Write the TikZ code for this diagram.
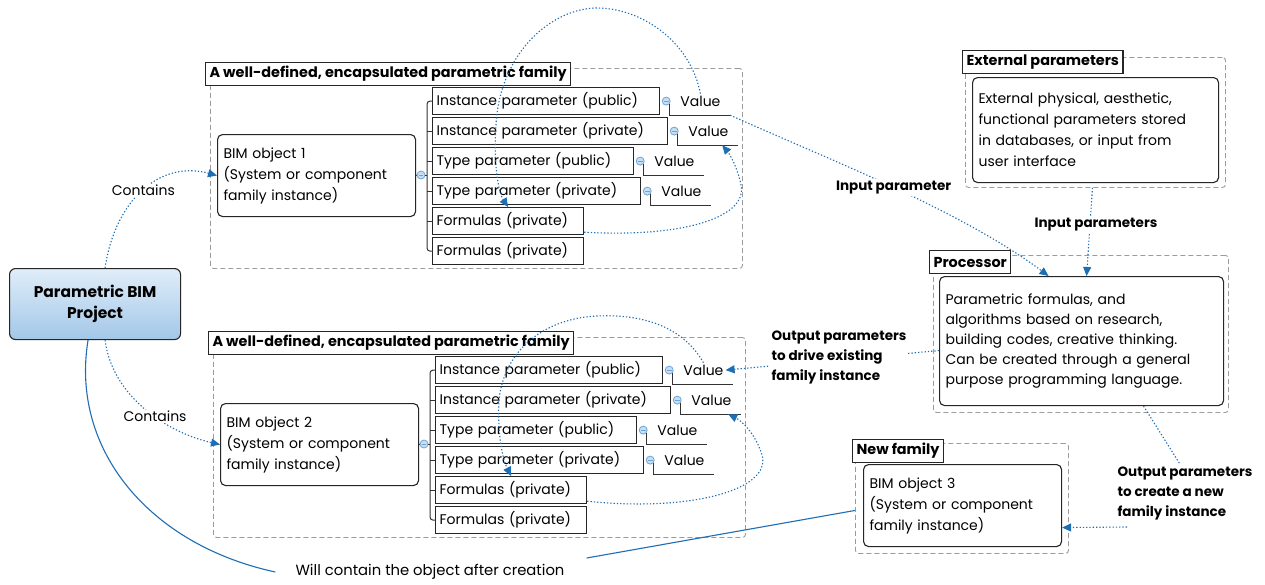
\documentclass[tikz,border=0pt]{standalone}
\usepackage{fontspec}
\setmainfont{Poppins}
\usetikzlibrary{calc,arrows.meta}

\definecolor{linkblue}{RGB}{30,110,180}
\definecolor{grpgray}{RGB}{155,155,155}
\definecolor{knobfill}{RGB}{200,222,242}
\definecolor{knobline}{RGB}{110,165,215}
\definecolor{projtop}{RGB}{224,237,249}
\definecolor{projbot}{RGB}{163,199,232}

\tikzset{
  txt/.style={text=black, font=\fontsize{14}{21}\selectfont},
  lbl/.style={text=black, font=\bfseries\fontsize{13.5}{20}\selectfont, align=left, inner sep=2pt},
  grp/.style={draw=grpgray, dash pattern=on 5pt off 3pt, rounded corners=3pt, line width=0.9pt, anchor=north west},
  ttl/.style={draw=black!85, fill=white, line width=1.1pt, font=\bfseries\fontsize{14.4}{18}\selectfont,
    inner xsep=4pt, inner ysep=0pt, minimum height=23pt, anchor=north west},
  parbox/.style={draw=black!85, fill=white, line width=1.2pt, anchor=north west, inner xsep=4pt,
    inner ysep=0pt, minimum height=27pt, align=left, font=\fontsize{14}{18}\selectfont},
  objbox/.style={draw=black!85, fill=white, line width=1.1pt, rounded corners=5pt, anchor=north west,
    inner xsep=6pt, align=left, font=\fontsize{14}{21}\selectfont},
  knob/.style={circle, draw=knobline, fill=knobfill, minimum size=8pt, inner sep=0pt, line width=0.8pt,
    path picture={\draw[knobline, line width=0.7pt]
      ([xshift=-2.3pt]path picture bounding box.center) -- ([xshift=2.3pt]path picture bounding box.center);}},
  tree/.style={draw=black!80, line width=1pt},
  dotlink/.style={linkblue, line width=1.1pt, dash pattern=on 1.3pt off 2pt},
  dotarrow/.style={dotlink, -{Triangle[length=9pt,width=8pt]}},
  solidlink/.style={linkblue, line width=1.1pt},
}

% one encapsulated family: #1 name prefix, #2/#3 offset, #4 object number
\newcommand\paramfamily[4]{%
\begin{scope}[shift={(#2,#3)}]
  \node[grp, minimum width=532pt, minimum height=200pt] (#1grp) at (210,68) {};
  \node[ttl] (#1ttl) at (205,62) {A well-defined, encapsulated parametric family};
  \node[objbox, text width=186pt, minimum height=82pt] (#1obj) at (217,134)
    {BIM object #4\\(System or component\\family instance)};
  \node[parbox, text width=219pt] (#1p1) at (432,87) {Instance parameter (public)};
  \node[parbox, text width=227pt] (#1p2) at (432,117) {Instance parameter (private)};
  \node[parbox, text width=193pt] (#1p3) at (432,147) {Type parameter (public)};
  \node[parbox, text width=200pt] (#1p4) at (432,177) {Type parameter (private)};
  \node[parbox, text width=143pt] (#1p5) at (432,207) {Formulas (private)};
  \node[parbox, text width=143pt] (#1p6) at (432,237) {Formulas (private)};
  \coordinate (#1spine) at (427,175);
  \node[knob] (#1k0) at (421,175) {};
  \draw[tree] (#1obj.east) -- (#1k0.west);
  \draw[tree] (#1k0.east) -- (#1spine);
  \draw[tree, rounded corners=3pt] (#1p1.west) -| (#1spine) |- (#1p6.west);
  \foreach \k in {2,...,5} \draw[tree] (#1p\k.west) -- ([xshift=-5pt]#1p\k.west);
  \foreach \k in {1,...,4} {
    \node[knob] (#1vk\k) at ([xshift=6pt]#1p\k.east) {};
    \node[txt, anchor=west, inner sep=2pt] (#1v\k) at ([xshift=12pt]#1vk\k.center) {Value};
    \coordinate (#1ve\k) at ([xshift=64pt]#1vk\k.center);
    \coordinate (#1u\k) at (#1ve\k |- #1p\k.south);
    \draw[tree] (#1vk\k.south east) |- (#1u\k);
  }
\end{scope}}

\begin{document}
\begin{tikzpicture}[x=1pt,y=-1pt]
\path[use as bounding box, fill=white] (0,0) rectangle (1265,584);

% project
\node[draw=black!85, line width=1.1pt, rounded corners=6pt, top color=projtop, bottom color=projbot,
  minimum width=171pt, minimum height=71pt, anchor=north west, align=center,
  font=\bfseries\fontsize{15.5}{21}\selectfont] (proj) at (9,268) {Parametric BIM\\Project};

% the two families
\paramfamily{f1}{0}{0}{1}
\paramfamily{f2}{3}{269}{2}

% external parameters
\node[grp, minimum width=260pt, minimum height=130pt] (extgrp) at (965,57) {};
\node[ttl] (extttl) at (962,50) {External parameters};
\node[objbox, text width=234pt, minimum height=105pt] (extbox) at (972,77)
  {External physical, aesthetic,\\functional parameters stored\\in databases, or input from\\user interface};

% processor
\node[grp, minimum width=295pt, minimum height=157pt] (procgrp) at (933,255) {};
\node[ttl] (procttl) at (929,250) {Processor};
\node[objbox, text width=272pt, minimum height=129pt, font=\fontsize{14}{20}\selectfont] (procbox) at (939,276)
  {Parametric formulas, and\\algorithms based on research,\\building codes, creative thinking.\\Can be created through a general\\purpose programming language.};

% new family
\node[grp, minimum width=213pt, minimum height=110pt] (nfgrp) at (855,443) {};
\node[ttl] (nfttl) at (852,439) {New family};
\node[objbox, text width=186pt, minimum height=82pt] (bim3box) at (863,464)
  {BIM object 3\\(System or component\\family instance)};

% containment
\draw[dotarrow] ([xshift=10pt]proj.north) .. controls (115,200) and (160,160) .. (f1obj.west)
  node[pos=0.5, txt, fill=white, inner sep=1pt] (c1lbl) {Contains};
\draw[dotarrow] ([xshift=10pt]proj.south) .. controls (112,395) and (165,432) .. (f2obj.west)
  node[pos=0.58, txt, fill=white, inner sep=1pt] (c2lbl) {Contains};

\node[txt, inner xsep=20pt, font=\fontsize{14.8}{20}\selectfont] (wlbl) at (430,572) {Will contain the object after creation};
\draw[solidlink] ([xshift=-7pt]proj.south) .. controls (70,450) and (150,545) .. (wlbl.west);
\draw[solidlink] ([shift={(2pt,14pt)}]wlbl.east) -- ([yshift=-12pt]nfgrp.west);

% links inside the families
\draw[dotarrow] (f1v1.north) .. controls (690,40) and (640,8) .. (597,8)
  .. controls (554,8) and (500,50) .. (496,125) .. controls (493,170) and (500,195) .. (f1p5.north);
\draw[dotarrow] ([yshift=3pt]f1p5.south east) .. controls (690,238) and (748,215) .. (741,185)
  .. controls (737,165) and (728,152) .. ([xshift=-16pt]f1u2);
\draw[dotarrow] (f2v1.north) .. controls (682,325) and (640,314) .. (597,316)
  .. controls (550,318) and (505,345) .. (499,400) .. controls (497,435) and (503,460) .. (f2p5.north);
\draw[dotarrow] ([yshift=3pt]f2p5.south east) .. controls (690,512) and (772,490) .. (762,455)
  .. controls (755,432) and (740,420) .. ([xshift=-13pt]f2u2);

% parameter flow
\draw[dotarrow] (f1u1) .. controls (830,160) and (960,210) .. ([xshift=-33pt]procbox.north)
  node[pos=0.5, lbl, fill=white] (inlbl1) {Input parameter};
\draw[dotarrow] ([xshift=-3pt]extgrp.south) -- ([xshift=5pt]procbox.north)
  node[pos=0.42, xshift=6pt, lbl, fill=white] (inlbl2) {Input parameters};
\draw[dotarrow] ([yshift=-9.5pt]procbox.west) -- (f2v1.east);
\node[lbl, fill=white] (outlbl1) at (839,357) {Output parameters\\to drive existing\\family instance};
\node[lbl] (outlbl2) at (1185,493) {Output parameters\\to create a new\\family instance};
\draw[dotlink] ([xshift=62pt]procbox.south) -- ([xshift=-5pt]outlbl2.north);
\coordinate (out2tail) at (1127,527);
\draw[dotarrow] (out2tail) -- ([yshift=-22pt]bim3box.east);
\end{tikzpicture}
\end{document}
